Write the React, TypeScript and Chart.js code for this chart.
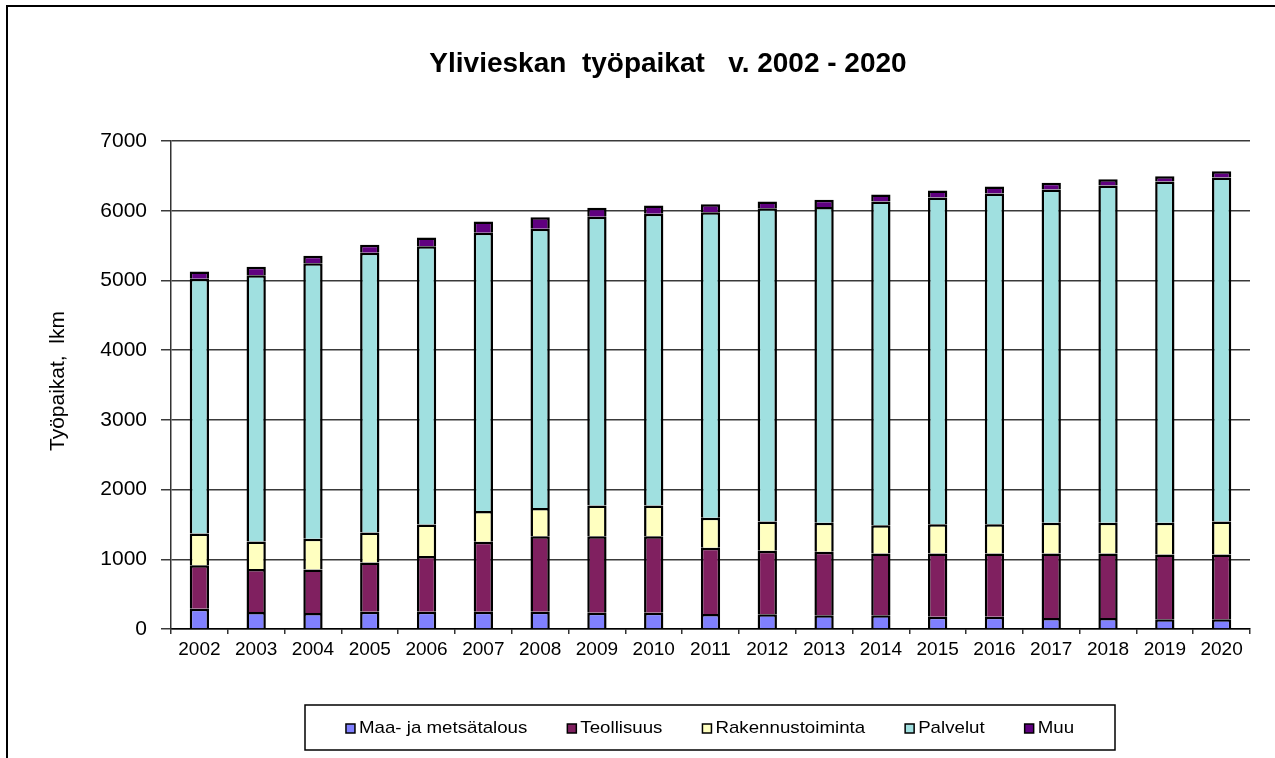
import React, { useEffect, useRef } from "react";
import { Chart, registerables } from "chart.js";

Chart.register(...registerables);

const years = ["2002","2003","2004","2005","2006","2007","2008","2009","2010","2011","2012","2013","2014","2015","2016","2017","2018","2019","2020"];
const maa = [291,244,229,248,248,248,248,234,234,215,210,196,196,177,177,158,158,139,139];
const teollisuus = [622,616,626,707,798,1003,1084,1098,1098,950,912,912,888,907,907,926,926,931,931];
const rakennus = [458,396,439,430,453,440,402,440,440,430,421,415,406,420,420,439,439,453,473];
const palvelut = [3653,3820,3954,4011,3993,3992,4006,4140,4183,4384,4493,4532,4642,4685,4742,4781,4838,4895,4933];
const muu = [105,120,105,115,124,162,167,129,119,114,96,101,100,100,101,96,91,77,90];
const seriesNames = ["Maa- ja metsätalous","Teollisuus","Rakennustoiminta","Palvelut","Muu"];
const seriesColors = ["#8080FF","#802060","#FFFFC0","#A0E0E0","#600080"];
const yTicks = [0,1000,2000,3000,4000,5000,6000,7000];
const titleText = "Ylivieskan  työpaikat   v. 2002 - 2020";
const yTitle = "Työpaikat,  lkm";

const FONT = '"Liberation Sans", Arial, sans-serif';

const decorPlugin = {
  id: "decor",
  afterDraw(chart: any) {
    const ctx = chart.ctx;
    ctx.save();
    // outer frame
    ctx.strokeStyle = "#000";
    ctx.lineWidth = 2;
    ctx.strokeRect(7, 6, 1400, 900);
    // title
    ctx.fillStyle = "#000";
    ctx.font = `bold 28px ${FONT}`;
    ctx.textAlign = "center";
    ctx.textBaseline = "alphabetic";
    ctx.fillText(titleText, 668, 72);
    // y title
    ctx.save();
    ctx.translate(58, 381);
    ctx.rotate(-Math.PI / 2);
    ctx.font = `21px ${FONT}`;
    ctx.textBaseline = "middle";
    ctx.fillText(yTitle, 0, 0);
    ctx.restore();
    // legend
    const lx = 305, ly = 705, lw = 810, lh = 45;
    ctx.lineWidth = 1.5;
    ctx.strokeRect(lx, ly, lw, lh);
    ctx.font = `17px ${FONT}`;
    ctx.textAlign = "left";
    ctx.textBaseline = "middle";
    const sx = 1.1;
    const sq = 9, gapSq = 4, gapItem = 40;
    const ds = chart.data.datasets;
    const widths = ds.map((d: any) => ctx.measureText(d.label).width * sx);
    let total = 0;
    widths.forEach((w: number, i: number) => { total += sq + gapSq + w + (i < widths.length - 1 ? gapItem : 0); });
    let x = lx + (lw - total) / 2;
    const cy = ly + lh / 2 + 1;
    ds.forEach((d: any, i: number) => {
      ctx.fillStyle = d.backgroundColor;
      ctx.fillRect(x, cy - sq / 2, sq, sq);
      ctx.strokeStyle = "#000";
      ctx.lineWidth = 1.5;
      ctx.strokeRect(x, cy - sq / 2, sq, sq);
      ctx.fillStyle = "#000";
      ctx.save();
      ctx.translate(x + sq + gapSq, cy);
      ctx.scale(sx, 1);
      ctx.fillText(d.label, 0, 0);
      ctx.restore();
      x += sq + gapSq + widths[i] + gapItem;
    });
    ctx.restore();
  },
};

export default function App() {
  const ref = useRef<HTMLCanvasElement | null>(null);
  useEffect(() => {
    if (!ref.current) return;
    const values = [maa, teollisuus, rakennus, palvelut, muu];
    const chart = new Chart(ref.current, {
      type: "bar",
      data: {
        labels: years,
        datasets: values.map((v, i) => ({
          label: seriesNames[i],
          data: v,
          backgroundColor: seriesColors[i],
          borderColor: "#000",
          borderWidth: 2.5,
          barPercentage: 0.34,
          categoryPercentage: 1,
        })),
      },
      options: {
        responsive: false,
        animation: false,
        devicePixelRatio: 1,
        layout: { padding: { left: 0, top: 141, right: 25, bottom: 0 } },
        plugins: {
          legend: { display: false },
          title: { display: false },
          tooltip: { enabled: false },
        },
        scales: {
          x: {
            stacked: true,
            afterFit: (s: any) => { s.height = 129; },
            grid: { offset: true, drawOnChartArea: false, drawTicks: true, tickLength: 5, color: "#333", lineWidth: 1.5 },
            border: { display: true, color: "#000", width: 1.5 },
            ticks: { color: "#000", font: { family: FONT, size: 19 }, padding: 4, maxRotation: 0, autoSkip: false },
          },
          y: {
            stacked: true,
            min: 0,
            max: 7000,
            afterFit: (s: any) => { s.width = 171; },
            afterBuildTicks: (s: any) => { s.ticks = yTicks.map((v) => ({ value: v })); },
            grid: { color: "#3a3a3a", lineWidth: 1.5, drawTicks: true, tickLength: 10 },
            border: { display: true, color: "#333", width: 1.5 },
            ticks: { color: "#000", font: { family: FONT, size: 21 }, padding: 14, callback: (v: any) => String(v) },
          },
        },
      },
      plugins: [decorPlugin],
    });
    return () => chart.destroy();
  }, []);
  return (
    <div style={{ position: "absolute", left: 0, top: 0, width: 1275, height: 758, background: "#fff" }}>
      <canvas ref={ref} width={1275} height={758} style={{ display: "block" }} />
    </div>
  );
}
